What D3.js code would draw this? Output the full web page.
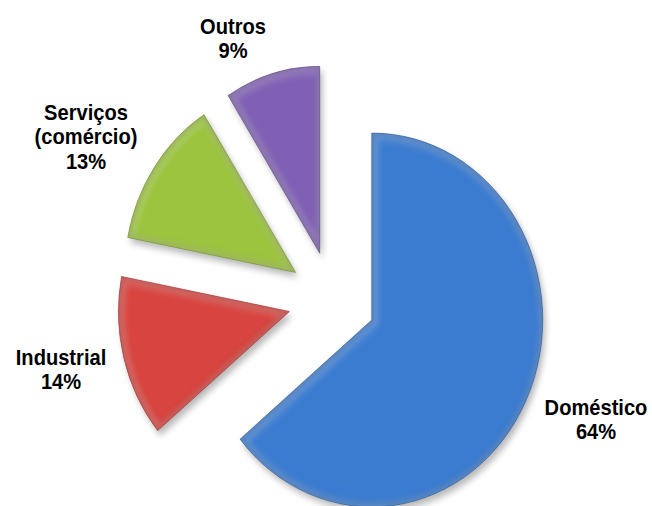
<!DOCTYPE html>
<html>
<head>
<meta charset="utf-8">
<script src="https://cdn.jsdelivr.net/npm/d3@7"></script>
<style>
  html, body { margin: 0; padding: 0; background: #ffffff; }
  svg { display: block; }
  text { font-family: "Liberation Sans", Arial, sans-serif; font-weight: bold; fill: #000; }
</style>
</head>
<body>
<svg id="chart" width="652" height="506"></svg>
<script>
// ---- data ----
const categories = ["Doméstico", "Industrial", "Serviços (comércio)", "Outros"];
const values = [64, 14, 13, 9];
const labelLines = [["Doméstico"], ["Industrial"], ["Serviços", "(comércio)"], ["Outros"]];
const percentLabels = ["64%", "14%", "13%", "9%"];
const colors = ["#3c7cd0", "#d8443f", "#9cc43e", "#8060b4"];

// ---- layout ----
const W = 652, H = 506;
const cx = 332, cy = 299.5;
const R = 187;
const sx = 171 / 187;          // horizontal squash of the picture
const explode = 0.257 * R;
const fontSize = 22, lineH = 24.5;
// label anchors (centre x, baseline of first line)
const labelPos = [
  [596, 415],
  [61, 365],
  [86, 120],
  [233, 34]
];

const svg = d3.select("#chart");
const defs = svg.append("defs");

const blurF = defs.append("filter").attr("id", "blur3")
  .attr("x", "-30%").attr("y", "-30%").attr("width", "160%").attr("height", "160%");
blurF.append("feGaussianBlur").attr("stdDeviation", 3);

const blurS = defs.append("filter").attr("id", "shadow")
  .attr("x", "-30%").attr("y", "-30%").attr("width", "160%").attr("height", "160%");
blurS.append("feGaussianBlur").attr("stdDeviation", 3.5);

const pie = d3.pie().sort(null).value(d => d)(values);
const arc = d3.arc().innerRadius(0).outerRadius(R);

const g = svg.append("g").attr("transform", `translate(${cx},${cy}) scale(${sx},1)`);

pie.forEach((p, i) => {
  const mid = (p.startAngle + p.endAngle) / 2;
  const ox = Math.sin(mid) * explode, oy = -Math.cos(mid) * explode;
  const sg = g.append("g").attr("transform", `translate(${ox},${oy})`);
  const d = arc(p);

  defs.append("clipPath").attr("id", "clip" + i).append("path").attr("d", d);

  // soft shadow
  sg.append("path").attr("d", d)
    .attr("transform", "translate(3,5)")
    .attr("fill", "#000").attr("opacity", 0.28)
    .attr("filter", "url(#shadow)");

  // main fill
  sg.append("path").attr("d", d).attr("fill", colors[i]);

  const rim = sg.append("g").attr("clip-path", `url(#clip${i})`);
  // darker shading near the edges
  rim.append("path").attr("d", d)
    .attr("fill", "none")
    .attr("stroke", d3.color(colors[i]).darker(0.9))
    .attr("stroke-width", 7).attr("opacity", 0.65)
    .attr("filter", "url(#blur3)");
  // light bevel band just inside
  rim.append("path").attr("d", d)
    .attr("fill", "none")
    .attr("stroke", "#ffffff")
    .attr("stroke-width", 12).attr("opacity", 0.2)
    .attr("transform", "translate(1.5,1.5)")
    .attr("filter", "url(#blur3)");
  // thin outline
  sg.append("path").attr("d", d)
    .attr("fill", "none")
    .attr("stroke", d3.color(colors[i]).darker(1.2))
    .attr("stroke-width", 0.8).attr("opacity", 0.6);
});

// labels
pie.forEach((p, i) => {
  const [lx, ly] = labelPos[i];
  const t = svg.append("text")
    .attr("text-anchor", "middle")
    .attr("font-size", fontSize)
    .attr("transform", `translate(${lx},${ly}) scale(${sx},1)`);
  const lines = labelLines[i].concat([percentLabels[i]]);
  lines.forEach((ln, k) => {
    t.append("tspan").attr("x", 0).attr("y", k * lineH).text(ln);
  });
});
</script>
</body>
</html>
